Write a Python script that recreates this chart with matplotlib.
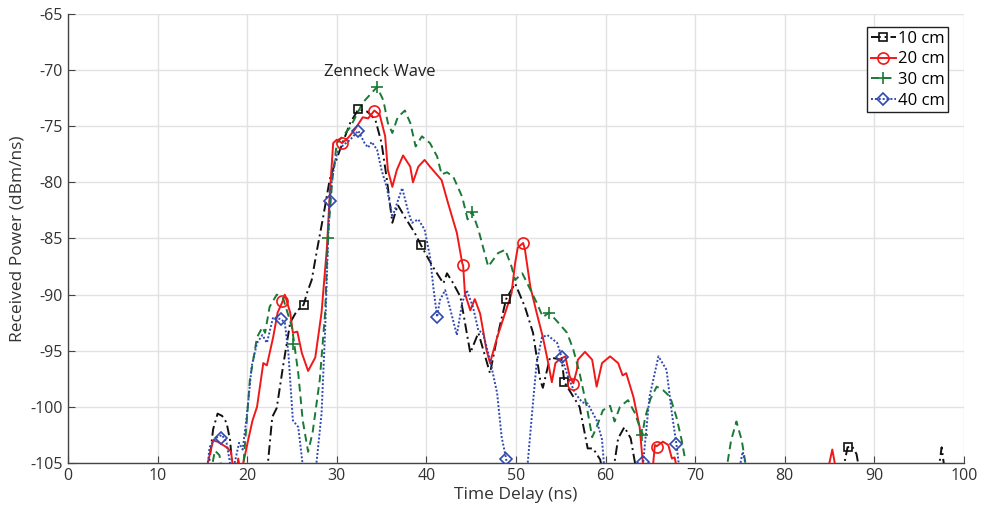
import numpy as np
import matplotlib
matplotlib.use("Agg")
import matplotlib.pyplot as plt
from matplotlib.lines import Line2D

nan = np.nan
LOW = -106.0

# ---- 10 cm (black) ----
t10 = [15.6, 16.2, 16.7, 17.2, 17.7, 18.1, 18.4, nan,
       22.2, 22.8, 23.3, 24.0, 24.8, 25.5, 26.3, 26.7, 27.2, 27.8, 28.5, 29.2, 29.5, 30.4, 31.5, 32.4,
       33.4, 34.3, 35.0, 35.6, 36.2, 36.8, 37.6, 38.7, 39.4, 40.7, 41.9, 42.3, 43.0, 43.8, 44.9, 45.8,
       47.1, 47.9, 48.9, 49.9, 51.0, 51.9, 52.7, 53.0, 53.8, 55.1, 55.4, 57.1, 58.0, 58.6, 59.4, 59.7, nan,
       60.8, 61.4, 62.1, 62.8, 63.5, nan,
       86.4, 87.0, 87.5, 88.0, 88.4, nan,
       97.1, 97.5, 97.9]
p10 = [LOW, -102.0, -100.6, -100.8, -101.4, -103.0, LOW, nan,
       LOW, -100.9, -100.1, -96.4, -92.5, -91.5, -90.9, -89.8, -88.7, -86.0, -83.0, -79.8, -79.0, -77.0, -74.7, -73.5,
       -73.7, -74.4, -76.5, -79.8, -83.6, -82.0, -83.1, -84.5, -85.6, -87.5, -89.0, -88.1, -89.0, -90.2, -95.2, -93.4,
       -97.0, -93.8, -90.4, -89.0, -91.1, -93.4, -97.6, -98.3, -95.6, -95.8, -97.8, -100.0, -103.7, -103.7, -104.7, LOW, nan,
       LOW, -102.8, -101.8, -102.8, LOW, nan,
       LOW, -103.6, -103.5, -104.2, LOW, nan,
       LOW, -103.6, LOW]
m10_t = [26.3, 32.4, 39.4, 48.9, 55.4, 87.0]
m10_p = [-90.9, -73.5, -85.6, -90.4, -97.8, -103.6]

# ---- 20 cm (red) ----
t20 = [15.3, 16.2, 16.7, 17.7, 18.2, 18.5, nan,
       18.8, 19.0, 19.3, 20.1, 20.6, 21.1, 21.8, 22.2, 22.9, 23.4, 23.9, 24.2, 24.8, 25.1, 25.6, 26.1, 26.8,
       27.6, 28.3, 28.9, 29.2, 29.6, 30.0, 30.6, 31.3, 32.0, 32.9, 33.5, 34.2, 34.8, 35.4, 35.7, 36.2, 36.7,
       37.4, 38.2, 38.5, 39.1, 39.8, 40.4, 41.7, 42.4, 43.4, 44.0, 44.1, 44.3, 44.9, 45.4, 46.0, 46.7, 47.1,
       47.9, 48.8, 49.5, 49.9, 50.2, 50.8, 51.0, 51.6, 52.3, 53.0, 53.6, 54.0, 54.4, 54.8, 55.5, 56.0, 56.4,
       56.8, 56.9, 57.7, 58.5, 59.0, 59.6, 60.5, 61.4, 61.9, 62.3, 63.1, 63.8, 64.1, 64.3, nan,
       65.2, 65.5, 65.7, 66.4, 67.0, 67.4, 67.7, 68.1, nan,
       84.7, 85.3, 85.8]
p20 = [LOW, -103.0, -103.1, -103.6, -104.0, LOW, nan,
       LOW, -104.6, LOW, -103.0, -101.2, -100.0, -96.1, -96.3, -93.8, -91.6, -90.7, -90.0, -91.6, -93.4, -93.3, -95.2, -96.8,
       -95.6, -91.6, -85.8, -81.3, -76.5, -76.2, -76.5, -76.0, -75.3, -74.2, -74.3, -73.6, -74.0, -75.9, -78.9, -80.4, -78.9,
       -77.6, -78.6, -80.0, -78.6, -78.0, -78.6, -79.8, -81.8, -84.5, -87.2, -87.4, -89.9, -91.4, -90.4, -91.7, -94.9, -96.1,
       -93.8, -91.6, -89.9, -87.2, -85.8, -85.4, -86.0, -89.3, -91.6, -93.8, -96.1, -97.8, -96.1, -95.8, -95.5, -97.3, -97.9,
       -96.7, -95.8, -95.1, -95.8, -98.2, -96.1, -95.5, -96.1, -97.2, -97.0, -99.1, -101.8, -104.5, LOW, nan,
       LOW, -103.4, -103.5, -103.1, -103.4, -104.6, -104.5, LOW, nan,
       LOW, -103.8, LOW]
m20_t = [23.9, 30.6, 34.2, 44.1, 50.8, 56.4, 65.7]
m20_p = [-90.6, -76.5, -73.6, -87.4, -85.4, -98.0, -103.6]

# ---- 30 cm (green) ----
t30 = [15.9, 16.4, 16.9, 17.3, nan,
       19.5, 20.3, 21.1, 21.7, 22.0, 22.5, 23.3, 24.0, 25.0, 25.7, 26.2, 26.8, 27.3, 28.1, 28.7, 29.0, 29.5,
       30.0, 31.5, 32.9, 34.5, 35.2, 35.7, 36.2, 36.8, 37.6, 38.2, 38.8, 39.5, 40.4, 41.2, 41.7, 42.3, 43.0,
       44.0, 44.6, 45.1, 45.8, 46.7, 46.9, 48.0, 48.8, 49.5, 49.9, 50.7, 51.2, 52.3, 53.0, 53.7, 54.5, 55.7,
       56.4, 57.1, 57.9, 58.5, 59.0, 59.7, 60.5, 61.0, 61.6, 62.5, 63.3, 64.1, 64.4, 65.0, 65.7, 66.4, 67.2,
       67.9, 68.5, 68.9, nan,
       73.4, 74.0, 74.6, 75.2, 75.8]
p30 = [LOW, -103.9, -104.3, LOW, nan,
       LOW, -97.6, -93.8, -92.9, -93.4, -91.1, -90.0, -90.3, -92.9, -97.0, -101.2, -104.0, -102.3, -97.6, -91.6, -85.0, -79.8,
       -76.5, -75.1, -72.9, -71.5, -72.7, -74.7, -75.6, -74.2, -73.6, -74.7, -76.8, -75.9, -76.5, -77.7, -79.3, -79.1, -79.5,
       -81.3, -83.3, -82.6, -84.2, -86.9, -87.5, -86.3, -86.0, -87.5, -88.7, -88.1, -88.9, -90.7, -92.0, -91.6, -92.3, -93.4,
       -94.9, -97.0, -100.0, -102.7, -101.8, -100.3, -99.9, -101.3, -100.0, -99.4, -100.6, -102.5, -101.0, -99.3, -98.2, -98.5, -99.1,
       -100.9, -103.0, -104.8, nan,
       LOW, -103.0, -101.3, -103.0, LOW]
m30_t = [25.1, 29.0, 34.5, 45.1, 53.7, 64.1]
m30_p = [-94.4, -85.0, -71.5, -82.6, -91.6, -102.5]

# ---- 40 cm (blue) ----
t40 = [15.5, 15.8, 16.4, 17.2, 17.7, 18.3, nan,
       18.6, 19.1, 19.5, 20.0, 20.5, 21.1, 21.7, 22.2, 22.9, 23.8, 24.2, 24.6, 25.1, 25.7, 26.1, 26.3, nan,
       27.6, 27.8, 28.3, 28.7, 29.0, 29.2, 29.5, 30.0, 30.7, 31.5, 32.4, 33.1, 33.5, 33.9, 34.5, 35.0, 35.6,
       36.2, 37.3, 38.0, 38.4, 39.1, 39.8, 40.4, 40.8, 41.2, 41.5, 42.1, 42.6, 43.4, 44.0, 44.5, 45.2, 45.8,
       46.3, 47.1, 47.9, 48.4, 48.9, 49.1, nan,
       51.2, 51.8, 52.3, 52.9, 53.5, 54.6, 55.1, 55.8, 56.6, 57.4, 58.0, 59.0, 59.6, 59.9, nan,
       64.2, 64.9, 65.9, 66.8, 67.4, 67.9, 68.3, nan,
       74.8, 75.3, 75.9]
p40 = [LOW, -103.6, -102.8, -102.5, -103.2, LOW, nan,
       -105.0, -103.2, -103.8, -100.5, -96.4, -94.3, -93.6, -94.3, -92.0, -92.2, -92.5, -95.2, -101.2, -101.8, -104.5, LOW, nan,
       LOW, -104.5, -100.6, -93.2, -85.8, -81.7, -79.5, -77.4, -76.7, -76.2, -75.4, -76.5, -76.9, -76.4, -77.1, -78.9, -80.5,
       -83.1, -80.5, -82.7, -83.6, -83.3, -84.2, -86.6, -89.5, -92.0, -90.5, -89.6, -91.1, -93.6, -90.7, -89.6, -91.1, -93.2,
       -93.4, -95.8, -98.8, -102.7, -104.6, LOW, nan,
       LOW, -100.5, -96.1, -93.8, -93.6, -94.3, -95.6, -97.3, -98.8, -99.6, -99.7, -101.2, -102.9, LOW, nan,
       -104.9, -99.1, -95.5, -96.7, -100.6, -103.3, LOW, nan,
       LOW, -104.0, LOW]
m40_t = [17.1, 23.8, 29.2, 32.4, 41.2, 48.9, 55.1, 64.2, 67.9]
m40_p = [-102.8, -92.2, -81.7, -75.4, -92.0, -104.6, -95.6, -104.9, -103.3]

labels = ["10 cm", "20 cm", "30 cm", "40 cm"]
x_ticks = list(range(0, 101, 10))
y_ticks = list(range(-105, -64, 5))

FONT = ["Open Sans", "DejaVu Sans"]
plt.rcParams['font.family'] = FONT
plt.rcParams['axes.unicode_minus'] = False

fig = plt.figure(figsize=(9.82, 5.16), dpi=100)
ax = fig.add_axes([0.0692, 0.1027, 0.9125, 0.8702])

styles = [
    dict(color="#111111", ls=(0, (5, 2, 1, 2)), marker="s", ms=6),
    dict(color="#f01818", ls="-", marker="o", ms=8),
    dict(color="#1a7a35", ls=(0, (4, 2.5)), marker="+", ms=8),
    dict(color="#3048b0", ls=(0, (1, 1)), marker="D", ms=6),
]
series = [(t10, p10, m10_t, m10_p), (t20, p20, m20_t, m20_p),
          (t30, p30, m30_t, m30_p), (t40, p40, m40_t, m40_p)]

handles = []
for (t, p, mt, mp), st, lab in zip(series, styles, labels):
    ax.plot(t, p, color=st["color"], ls=st["ls"], lw=1.4, zorder=3)
    ax.plot(mt, mp, ls="none", marker=st["marker"], mfc="none", mec=st["color"],
            ms=st["ms"], mew=1.2, zorder=4)
    handles.append(Line2D([], [], color=st["color"], ls=st["ls"], lw=1.4,
                          marker=st["marker"], mfc="none", mec=st["color"],
                          ms=st["ms"], mew=1.2))

ax.set_xlim(0, 100)
ax.set_ylim(-105, -65)
ax.set_xticks(x_ticks)
ax.set_yticks(y_ticks)
ax.grid(True, color="#e2e2e2", lw=1.0)
ax.set_axisbelow(True)
for s in ["top", "right"]:
    ax.spines[s].set_visible(False)
for s in ["left", "bottom"]:
    ax.spines[s].set_color("#444444")
    ax.spines[s].set_linewidth(1.0)
ax.tick_params(direction="in", length=5, colors="#444444", labelsize=11.5,
               labelcolor="#333333")
ax.set_xlabel("Time Delay (ns)", fontsize=12.5, color="#333333", labelpad=2)
ax.set_ylabel("Received Power (dBm/ns)", fontsize=12.5, color="#333333", labelpad=4)

ax.text(34.8, -70.2, "Zenneck Wave", ha="center", va="center", fontsize=12, color="#222222")

leg = ax.legend(handles, labels, loc="upper right", bbox_to_anchor=(0.9825, 0.97),
                fontsize=12, frameon=True, fancybox=False, handlelength=1.5,
                handletextpad=0.15, borderpad=0.2, labelspacing=0.28, borderaxespad=0.0)
leg.get_frame().set_edgecolor("#222222")
leg.get_frame().set_linewidth(1.0)
leg.get_frame().set_alpha(1.0)

fig.savefig("out.png", dpi=100)
